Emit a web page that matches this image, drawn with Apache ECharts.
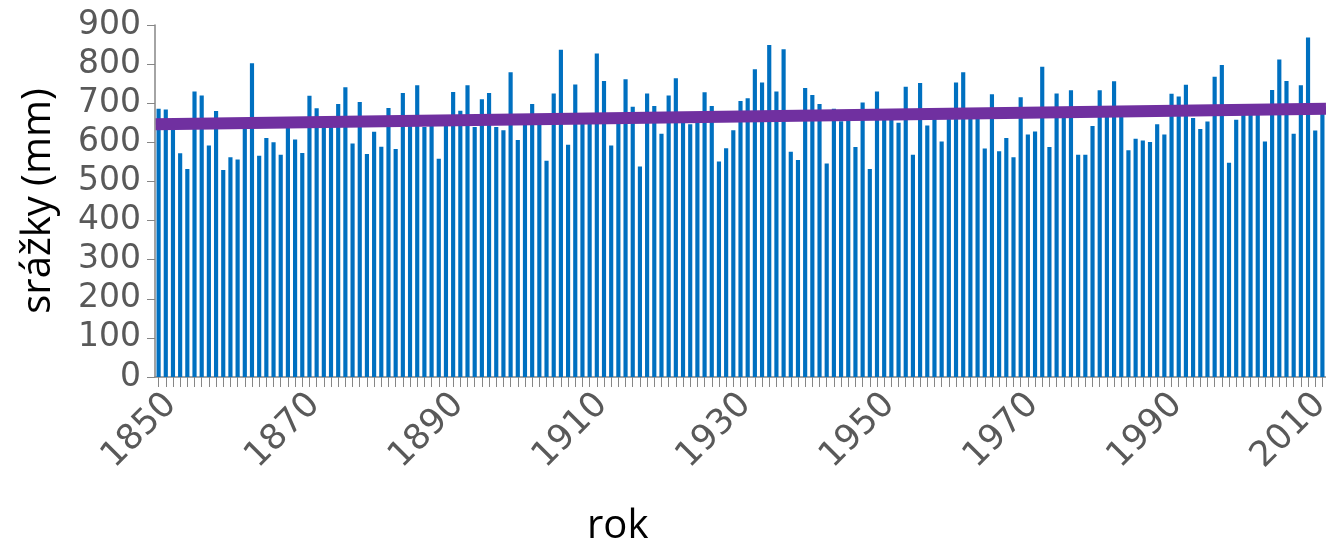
<!DOCTYPE html>
<html>
<head>
<meta charset="utf-8">
<script src="https://cdn.jsdelivr.net/npm/echarts@6/dist/echarts.min.js"></script>
<style>
html,body{margin:0;padding:0;background:#fff;}
#chart{width:1326px;height:554px;}
</style>
</head>
<body>
<div id="chart"></div>
<script>
const years = [];
for (let y = 1850; y <= 2012; y++) years.push(String(y));

const precipitation = [
686,684,655,572,532,730,720,592,680,529,
562,556,650,802,566,611,600,568,645,607,
573,719,687,655,655,698,741,597,703,570,
627,589,688,583,726,655,746,639,650,558,
650,729,681,746,639,710,726,639,631,779,
606,660,698,655,553,725,837,594,748,660,
660,827,757,592,660,761,691,538,725,693,
622,720,764,655,646,655,728,693,551,585,
631,706,713,787,753,849,730,838,576,555,
739,721,698,546,686,654,660,588,702,532,
730,665,665,650,742,568,752,643,665,602,
665,753,779,665,665,584,723,577,611,562,
715,620,628,793,588,725,665,733,568,568,
642,733,670,756,670,580,609,605,601,646,
620,724,717,747,662,634,653,768,798,548,
658,675,675,675,602,734,812,757,622,746,
868,630,680
];

const trendStart = [1849.6, 646];
const trendEnd = [2012.5, 686];

const TICK_FONT = 'DejaVu Sans';
const TITLE_FONT = 'Open Sans';
const chart = echarts.init(document.getElementById('chart'));
chart.setOption({
  animation: false,
  backgroundColor: '#ffffff',
  grid: {left: 155, top: 25, right: 0, bottom: 177, containLabel: false, outerBoundsMode: 'none'},
  xAxis: [{
    type: 'category',
    data: years,
    boundaryGap: true,
    axisLine: {lineStyle: {color: '#868686', width: 1.5}},
    axisTick: {show: true, interval: 0, length: 10, alignWithLabel: true, lineStyle: {color: '#868686'}},
    axisLabel: {
      interval: function (i) { return i % 20 === 0; },
      rotate: 45,
      margin: 10,
      verticalAlign: 'top',
      hideOverlap: false,
      color: '#595959',
      fontFamily: TICK_FONT,
      fontSize: 35
    },
    splitLine: {show: false}
  }, {
    type: 'value',
    min: 1849.5,
    max: 2012.5,
    show: false
  }],
  yAxis: {
    type: 'value',
    min: 0,
    max: 900,
    interval: 100,
    name: 'srážky (mm)',
    nameLocation: 'middle',
    nameGap: 96,
    nameTextStyle: {color: '#000', fontFamily: TITLE_FONT, fontSize: 40},
    axisLine: {show: true, lineStyle: {color: '#868686', width: 1.5}},
    axisTick: {show: true, length: 8, lineStyle: {color: '#868686'}},
    axisLabel: {color: '#595959', fontFamily: TICK_FONT, fontSize: 33, margin: 14},
    splitLine: {show: false}
  },
  graphic: [{
    type: 'text',
    left: 587,
    top: 507,
    style: {text: 'rok', fill: '#000', font: '40px "Open Sans"'}
  }],
  series: [{
    type: 'bar',
    data: precipitation,
    xAxisIndex: 0,
    barCategoryGap: '42%',
    itemStyle: {color: '#0070C0'}
  }, {
    type: 'line',
    xAxisIndex: 1,
    data: [trendStart, trendEnd],
    symbol: 'none',
    lineStyle: {color: '#7030A0', width: 12},
    z: 5
  }]
});
</script>
</body>
</html>
